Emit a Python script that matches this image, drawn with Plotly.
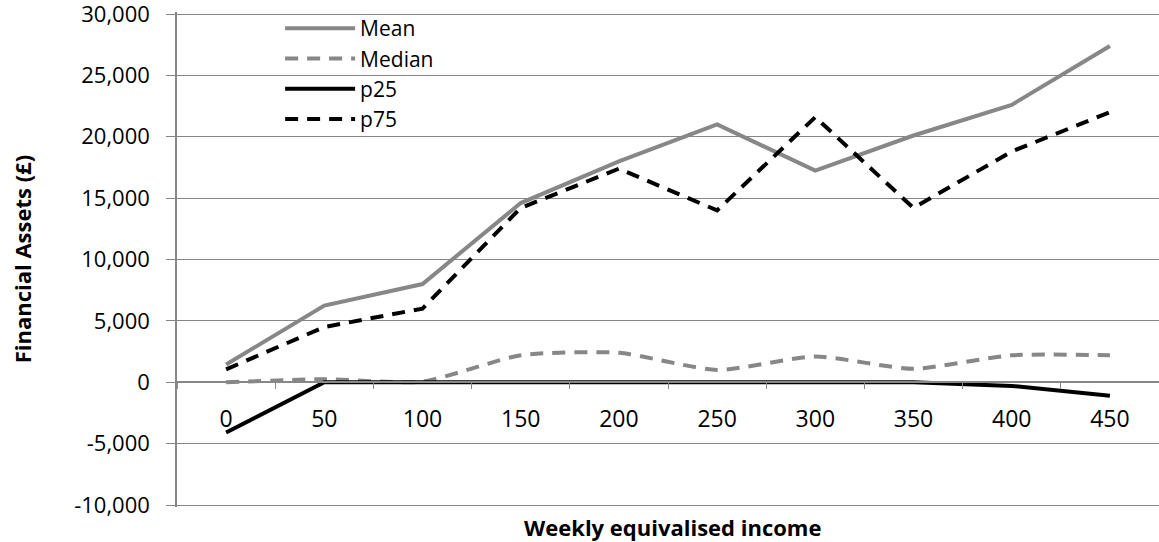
import plotly.graph_objects as go

categories = ["0", "50", "100", "150", "200", "250", "300", "350", "400", "450"]
mean_vals = [1450, 6250, 8000, 14600, 18000, 21000, 17250, 20100, 22600, 27400]
median_vals = [0, 250, 50, 2200, 2400, 1000, 2100, 1100, 2200, 2200]
p25_vals = [-4100, 0, 0, 0, 0, 0, 0, 0, -300, -1100]
p75_vals = [1050, 4500, 6000, 14200, 17400, 14000, 21600, 14200, 18800, 22000]
y_ticks = [-10000, -5000, 0, 5000, 10000, 15000, 20000, 25000, 30000]
y_labels = ["-10,000", "-5,000", "0", "5,000", "10,000", "15,000", "20,000", "25,000", "30,000"]

GRAY = "#878787"
FONT = "Open Sans"

# small padding so the boundary gridlines are kept by plotly
PAD = 163
y_range = [y_ticks[0] - PAD, y_ticks[-1] + PAD]
zero_pos = (0 - y_range[0]) / (y_range[1] - y_range[0])

fig = go.Figure()
fig.add_trace(go.Scatter(x=categories, y=mean_vals, name="Mean", mode="lines",
                         line=dict(color=GRAY, width=4)))
fig.add_trace(go.Scatter(x=categories, y=median_vals, name="Median", mode="lines",
                         line=dict(color=GRAY, width=4, dash="13px,9px", shape="spline", smoothing=0.6)))
fig.add_trace(go.Scatter(x=categories, y=p25_vals, name="p25", mode="lines",
                         line=dict(color="#000000", width=4)))
fig.add_trace(go.Scatter(x=categories, y=p75_vals, name="p75", mode="lines",
                         line=dict(color="#000000", width=4, dash="13px,9px")))

fig.update_layout(
    width=1159, height=542,
    margin=dict(l=177, r=0, t=12, b=35, autoexpand=False),
    paper_bgcolor="white", plot_bgcolor="white",
    font=dict(family=FONT, size=23, color="#000000"),
    showlegend=True,
    legend=dict(x=0.105, y=1.008, xanchor="left", yanchor="top",
                bgcolor="rgba(0,0,0,0)", font=dict(size=21),
                itemwidth=70, tracegroupgap=0),
    xaxis=dict(type="category", anchor="free", position=zero_pos, automargin=False,
               showline=True, linecolor=GRAY, linewidth=1.5,
               ticks="outside", tickson="boundaries", ticklen=6, tickcolor=GRAY,
               showgrid=False, zeroline=False, ticklabelstandoff=16,
               tickfont=dict(size=23), range=[-0.5, 9.5]),
    yaxis=dict(range=y_range, tickvals=y_ticks, ticktext=y_labels, automargin=False,
               showline=True, linecolor=GRAY, linewidth=1.5,
               ticks="outside", ticklen=9, tickcolor=GRAY, ticklabelstandoff=12,
               ticklabeloverflow="allow",
               showgrid=True, gridcolor=GRAY, gridwidth=1.3, zeroline=False,
               tickfont=dict(size=22)),
    annotations=[
        dict(text="<b>Weekly equivalised income</b>", xref="paper", yref="paper",
             x=0.505, y=-0.041, xanchor="center", yanchor="middle", showarrow=False,
             font=dict(size=22, family=FONT)),
        dict(text="<b>Financial Assets (£)</b>", xref="paper", yref="paper",
             x=-0.158, y=0.5, xanchor="center", yanchor="middle", showarrow=False,
             textangle=-90, font=dict(size=22, family=FONT)),
    ],
)

fig.write_html("out.html", config={"displayModeBar": False},
               post_script="document.body.style.margin='0';document.body.style.padding='0';")
